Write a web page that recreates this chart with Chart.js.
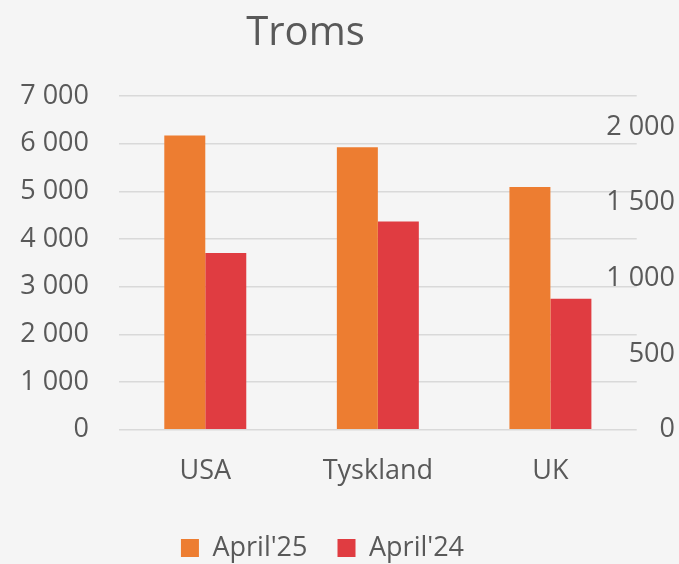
<!DOCTYPE html>
<html>
<head>
<meta charset="utf-8">
<script src="https://cdn.jsdelivr.net/npm/chart.js@4"></script>
<style>
  html, body { margin: 0; padding: 0; background: #f5f5f5; }
  #wrap { width: 679px; height: 564px; }
</style>
</head>
<body>
<div id="wrap"><canvas id="chart1"></canvas></div>
<script>
const labels = ["USA", "Tyskland", "UK"];
const april25 = [6170, 5925, 5090];
const april24 = [3705, 4370, 2745];
const leftTicks = [0, 1000, 2000, 3000, 4000, 5000, 6000, 7000];
const rightTicks = [0, 500, 1000, 1500, 2000];

const textColor = "#595959";
const fontFamily = "'Open Sans', sans-serif";

// spaces as thousand separator, like "7 000"
function fmt(v) {
  return String(v).replace(/\B(?=(\d{3})+(?!\d))/g, " ");
}

// title and legend sit left of the canvas centre in the original,
// legend also a bit lower than the layout puts it
const shiftBoxes = {
  id: "shiftBoxes",
  afterLayout(chart) {
    chart.titleBlock.left -= 34;
    chart.titleBlock.right -= 34;
    chart.legend.left -= 17;
    chart.legend.right -= 17;
    chart.legend.top += 7.5;
    chart.legend.bottom += 7.5;
  },
};

Chart.defaults.font.family = fontFamily;
Chart.defaults.color = textColor;

const ctx = document.getElementById("chart1").getContext("2d");
new Chart(ctx, {
  type: "bar",
  data: {
    labels: labels,
    datasets: [
      {
        label: "April'25",
        data: april25,
        backgroundColor: "#ed7d31",
        borderWidth: 0,
        yAxisID: "y",
      },
      {
        label: "April'24",
        data: april24,
        backgroundColor: "#e03c41",
        borderWidth: 0,
        yAxisID: "y",
      },
    ],
  },
  plugins: [shiftBoxes],
  options: {
    responsive: true,
    maintainAspectRatio: false,
    animation: false,
    categoryPercentage: 0.475,
    barPercentage: 1,
    layout: { padding: { top: 0, left: 0, right: 0, bottom: 0 } },
    plugins: {
      title: {
        display: true,
        text: "Troms",
        font: { size: 40, weight: "normal" },
        color: textColor,
        padding: { top: 10, bottom: 38 },
      },
      legend: {
        position: "bottom",
        labels: {
          font: { size: 27 },
          color: textColor,
          boxWidth: 18,
          boxHeight: 18,
          padding: 30,
        },
      },
      tooltip: { enabled: false },
    },
    scales: {
      x: {
        grid: { display: false, drawTicks: false },
        border: { display: false },
        ticks: { font: { size: 27 }, padding: 25 },
        afterFit: (s) => { s.height = 67.3; },
      },
      y: {
        position: "left",
        min: leftTicks[0],
        max: leftTicks[leftTicks.length - 1],
        grid: { color: "#d9d9d9", lineWidth: 1.5, drawTicks: false },
        border: { display: false },
        ticks: {
          stepSize: leftTicks[1] - leftTicks[0],
          font: { size: 27 },
          padding: 30,
          callback: (v) => fmt(v),
        },
        afterFit: (s) => { s.width = 119; },
      },
      y2: {
        position: "right",
        display: true,
        min: rightTicks[0],
        max: 2205,
        grid: { display: false, drawTicks: false },
        border: { display: false },
        ticks: {
          font: { size: 27 },
          mirror: true,
          padding: 38.3,
          callback: (v) => fmt(v),
        },
        afterBuildTicks: (s) => {
          s.ticks = rightTicks.map((v) => ({ value: v }));
        },
        afterFit: (s) => { s.width = 42.3; },
      },
    },
  },
});
</script>
</body>
</html>
